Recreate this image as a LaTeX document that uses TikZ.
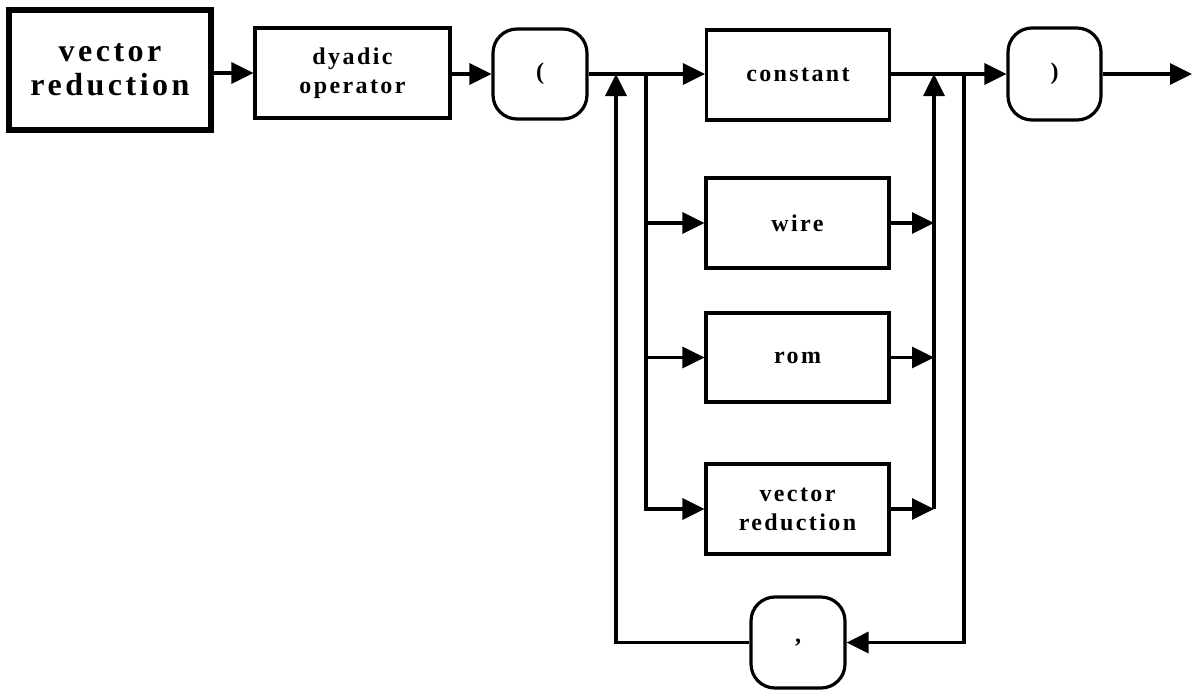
\documentclass[tikz,border=0pt]{standalone}
\usepackage{fontspec}
\newfontfamily\labfont{Liberation Serif}[LetterSpace=10]
\newfontfamily\bigfont{Liberation Serif}[LetterSpace=11]
\usetikzlibrary{arrows.meta}
\begin{document}
\begin{tikzpicture}[x=1pt,y=-1pt,
  every node/.style={font=\labfont\bfseries\fontsize{24}{29}\selectfont, align=center, inner sep=0pt},
  box/.style={draw, line width=3.2pt, minimum width=183pt, minimum height=90pt},
  rbox/.style={draw, line width=3.2pt, rounded corners=24pt, minimum width=94pt, minimum height=90pt},
  arr/.style={line width=3.2pt, -{Triangle[length=22pt,width=21pt]}}]
\useasboundingbox (0,0) rectangle (1194,691);
% nodes
\node[draw, line width=5.5pt, minimum width=202pt, minimum height=120pt,
      font=\bigfont\bfseries\fontsize{32}{34}\selectfont] (vr) at (110,70) {vector\\reduction};
\node[box, minimum width=195pt, minimum height=90pt] (dy) at (352.5,73) {dyadic\\operator};
\node[rbox] (lp) at (540,74) {(};
\node[box] (const) at (798,75) {constant};
\node[rbox, minimum width=93pt, minimum height=92pt] (rp) at (1054.5,74) {)};
\node[box] (wire) at (797.5,223) {wire};
\node[box, minimum height=89pt] (rom) at (797.5,357.5) {rom};
\node[box] (vr2) at (797.5,509) {vector\\reduction};
\node[rbox, minimum height=91pt] (comma) at (798,642.5) {,};
% junction coordinates
\coordinate (l0) at (616,74);
\coordinate (b0) at (646,74);
\coordinate (m0) at (934,74);
\coordinate (o0) at (964,74);
\coordinate (end) at (1192,74);
% main line
\draw[arr] (vr.east |- dy.west) -- (dy.west);
\draw[arr] (dy.east |- lp.west) -- (lp.west);
\draw[arr] (lp.east) -- (const.west |- lp.east);
\draw[arr] (const.east |- rp.west) -- (rp.west);
\draw[arr] (rp.east) -- (end);
% branches
\draw[arr] (b0) |- (vr2.west);
\draw[arr] (wire.west -| b0) -- (wire.west);
\draw[arr] (rom.west -| b0) -- (rom.west);
% merges
\draw[arr] (vr2.east -| m0) -- (m0);
\draw[arr] (vr2.east) -- (vr2.east -| m0);
\draw[arr] (rom.east) -- (rom.east -| m0);
\draw[arr] (wire.east) -- (wire.east -| m0);
% repetition loop
\draw[arr] (o0) |- (comma.east);
\draw[arr] (comma.west) -| (l0);
\end{tikzpicture}
\end{document}
